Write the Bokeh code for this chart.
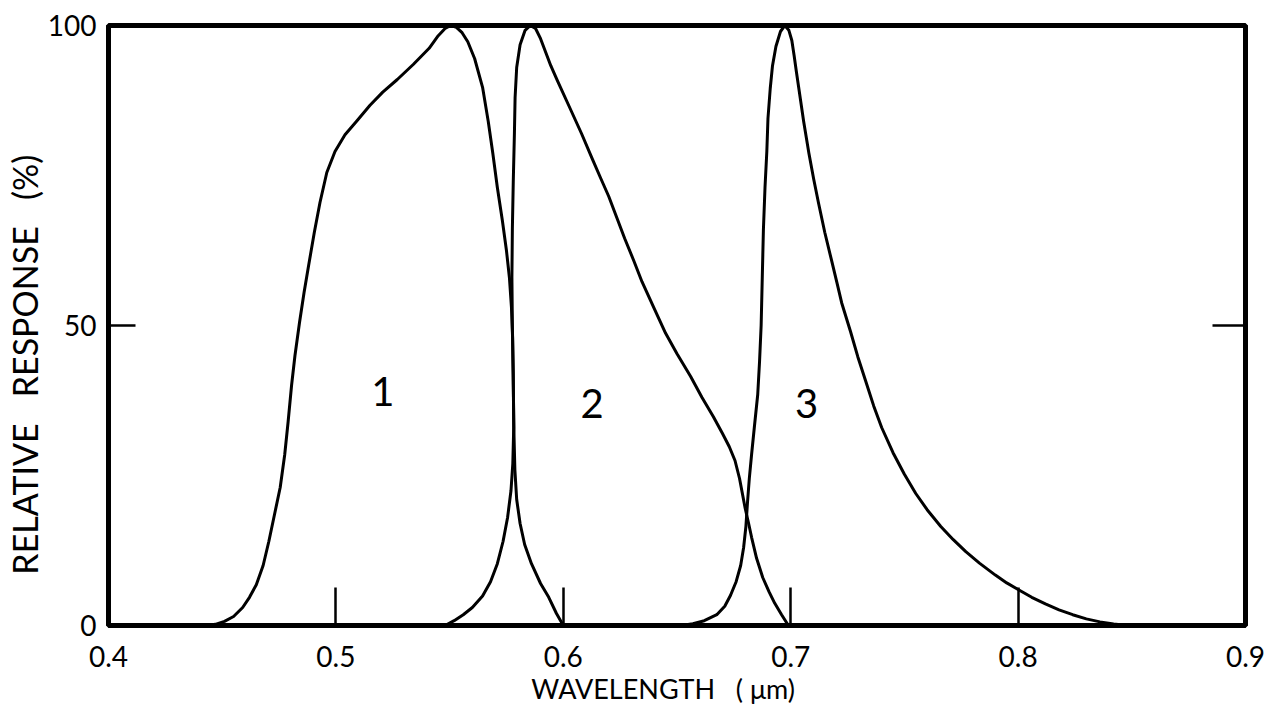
from bokeh.plotting import figure
from bokeh.models import Range1d, LinearAxis, FixedTicker
from bokeh.core.properties import value
from bokeh.embed import file_html
from bokeh.resources import INLINE

# ---- data ----
curve1_wl = [0.443, 0.447, 0.451, 0.455, 0.459, 0.462, 0.465, 0.468, 0.4705, 0.473,
             0.4755, 0.4775, 0.479, 0.4805, 0.482, 0.484, 0.486, 0.488, 0.4905, 0.493,
             0.496, 0.4996, 0.504, 0.509, 0.515, 0.5206, 0.527, 0.534, 0.541, 0.545,
             0.548, 0.5505, 0.553, 0.5555, 0.558, 0.561, 0.5645, 0.567, 0.569, 0.571,
             0.5732, 0.575, 0.5763, 0.5772, 0.5777, 0.578, 0.5783, 0.5787, 0.5795, 0.581,
             0.583, 0.586, 0.590, 0.5936, 0.597, 0.600]
curve1_resp = [0, 0.2, 0.7, 1.5, 3, 4.7, 6.8, 10, 14, 18.5,
               23, 28.5, 34, 40, 45, 50.5, 55.5, 60, 65.5, 70.5,
               75.5, 79, 81.8, 84, 86.7, 88.9, 91, 93.5, 96.2, 98.3,
               99.5, 100, 99.7, 98.8, 97.3, 94.5, 89.7, 84, 78.7, 73,
               67.5, 62.5, 58, 53, 48, 40, 32, 26, 21, 17,
               13.5, 10.3, 7, 4.7, 2, 0]

curve2_wl = [0.548, 0.552, 0.556, 0.560, 0.5645, 0.568, 0.571, 0.5735, 0.5755, 0.577,
             0.5778, 0.5782, 0.578, 0.5776, 0.5774, 0.5776, 0.578, 0.5785, 0.5788, 0.5795,
             0.581, 0.5832, 0.5855, 0.5878, 0.590, 0.592, 0.5945, 0.5974, 0.6026, 0.608,
             0.6127, 0.6165, 0.620, 0.6235, 0.627, 0.631, 0.6346, 0.640, 0.645, 0.650,
             0.656, 0.661, 0.666, 0.670, 0.673, 0.6755, 0.6775, 0.679, 0.680, 0.6815,
             0.6828, 0.685, 0.6877, 0.6905, 0.693, 0.696, 0.699]
curve2_resp = [0, 0.8, 1.8, 3, 4.9, 7.3, 10.3, 14, 18, 22.5,
               27, 33, 42, 50, 58, 66, 74, 82, 88, 93,
               96.8, 99.2, 100, 99.5, 97.8, 95.8, 93.3, 90.8, 86.5, 82,
               77.8, 74.5, 71.5, 68, 64.5, 60.8, 57.3, 52.8, 48.7, 45.3,
               41.5, 38, 34.8, 32, 29.8, 27.5, 24.5, 21.5, 19.5, 17,
               14.7, 11.2, 8, 5.6, 3.7, 1.8, 0]

curve3_wl = [0.652, 0.657, 0.662, 0.6675, 0.671, 0.6735, 0.676, 0.678, 0.6793, 0.6803,
             0.681, 0.6818, 0.6828, 0.684, 0.6855, 0.6863, 0.687, 0.6875, 0.688, 0.6887,
             0.6895, 0.690, 0.691, 0.692, 0.6935, 0.6955, 0.6974, 0.6992, 0.7005, 0.7015,
             0.7025, 0.7035, 0.7057, 0.708, 0.7101, 0.7123, 0.715, 0.718, 0.7203, 0.7224,
             0.7263, 0.7295, 0.733, 0.7365, 0.740, 0.745, 0.750, 0.755, 0.760, 0.766,
             0.7715, 0.777, 0.783, 0.790, 0.795, 0.800, 0.806, 0.812, 0.818, 0.824,
             0.830, 0.836, 0.842, 0.848]
curve3_resp = [0, 0.3, 0.8, 1.8, 3.2, 5, 7.3, 10, 13, 16.5,
               20.5, 24.5, 28.5, 33, 38.5, 44, 50, 58, 66, 73,
               79, 84.5, 89.5, 93.3, 96.5, 99, 100, 99.2, 97.5, 95,
               92.3, 89.7, 84, 78.7, 74.4, 70.3, 65.5, 60.8, 57.2, 53.8,
               49, 44.8, 40.7, 36.6, 33, 28.8, 25.2, 22, 19.3, 16.5,
               14.3, 12.3, 10.4, 8.4, 7.1, 6.0, 4.7, 3.6, 2.6, 1.8,
               1.1, 0.6, 0.25, 0]

label_text = ["1", "2", "3"]
label_wl = [0.5206, 0.6127, 0.707]
label_resp = [39, 37, 37]

x_ticks = [0.4, 0.5, 0.6, 0.7, 0.8, 0.9]
y_ticks = [0, 50, 100]
right_ticks = [50]

FONT = "Lato"

p = figure(width=1269, height=715,
           x_range=Range1d(0.4, 0.9), y_range=Range1d(0, 100),
           output_backend="svg", toolbar_location=None,
           min_border_left=105, min_border_right=24,
           min_border_top=25, min_border_bottom=90)
p.background_fill_color = "white"
p.border_fill_color = "white"
p.grid.visible = False
p.outline_line_color = "black"
p.outline_line_width = 5

# bottom axis
xa = p.xaxis[0]
xa.ticker = FixedTicker(ticks=x_ticks)
xa.major_tick_in = 38
xa.major_tick_out = 0
xa.minor_tick_line_color = None
xa.major_tick_line_width = 2.5
xa.axis_line_width = 5
xa.major_label_standoff = 20
xa.major_label_text_font = FONT
xa.major_label_text_font_size = "28px"
xa.major_label_text_color = "black"
xa.axis_label = "WAVELENGTH\u00a0\u00a0\u00a0(\u00a0\u03bcm)\u00a0\u00a0\u00a0\u00a0"
xa.axis_label_text_font = FONT
xa.axis_label_text_font_size = "27px"
xa.axis_label_text_font_style = "normal"
xa.axis_label_text_color = "black"
xa.axis_label_standoff = 2

# left axis
ya = p.yaxis[0]
ya.ticker = FixedTicker(ticks=y_ticks)
ya.major_tick_in = 27
ya.major_tick_out = 0
ya.minor_tick_line_color = None
ya.major_tick_line_width = 2.5
ya.axis_line_width = 5
ya.major_label_standoff = 12
ya.major_label_text_font = FONT
ya.major_label_text_font_size = "28px"
ya.major_label_text_color = "black"
ya.axis_label = ("RELATIVE\u00a0\u00a0\u00a0RESPONSE\u00a0\u00a0\u00a0(%)"
                 "\u00a0\u00a0\u00a0\u00a0\u00a0\u00a0\u00a0\u00a0\u00a0")
ya.axis_label_text_font = FONT
ya.axis_label_text_font_size = "34px"
ya.axis_label_text_font_style = "normal"
ya.axis_label_text_color = "black"
ya.axis_label_standoff = 0

# right axis: just the inward tick at 50
ra = LinearAxis(ticker=FixedTicker(ticks=right_ticks),
                major_tick_in=33, major_tick_out=0,
                minor_tick_line_color=None, major_tick_line_width=2.5,
                axis_line_width=5, major_label_overrides={50: ""},
                major_label_standoff=0, major_label_text_font_size="1px")
p.add_layout(ra, "right")

for xs, ys in [(curve1_wl, curve1_resp), (curve2_wl, curve2_resp), (curve3_wl, curve3_resp)]:
    p.line(xs, ys, line_color="black", line_width=3, line_join="round", line_cap="round")

p.text(x=label_wl, y=label_resp, text=label_text, text_font=value(FONT),
       text_font_size="40px", text_align="center", text_baseline="middle",
       text_color="black")

open("out.html", "w").write(file_html(p, INLINE))
